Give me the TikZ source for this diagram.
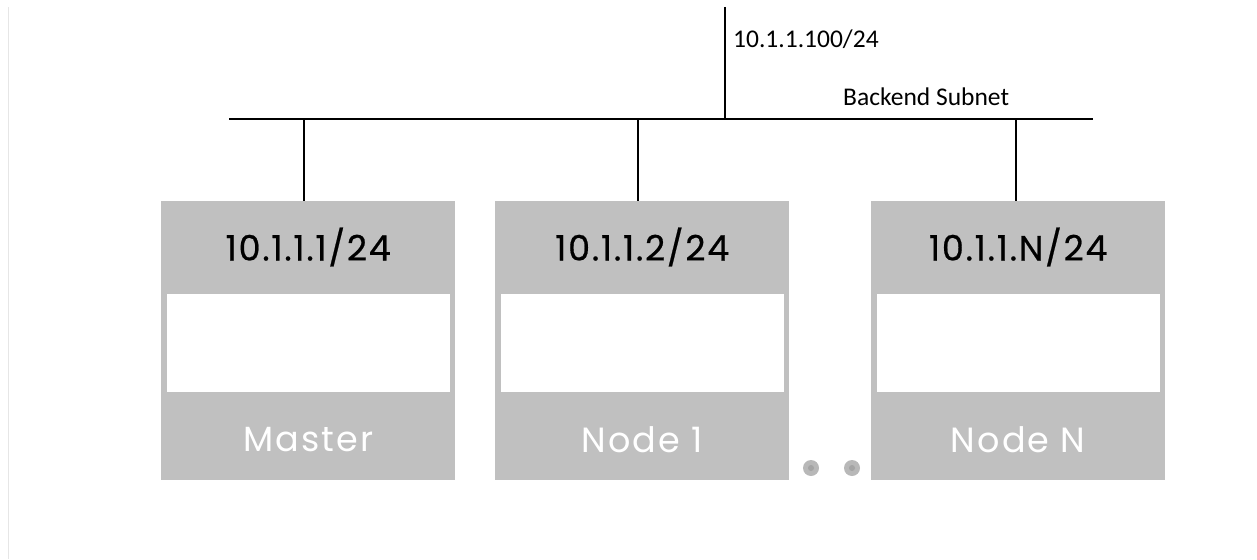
\documentclass[tikz,border=0pt]{standalone}
\usepackage{fontspec}
\newfontfamily\lblfont{Carlito}
\newfontfamily\boxfont[LetterSpace=6]{Poppins}
\newfontfamily\boxfontb[LetterSpace=5,FakeBold=0.6]{Poppins}
\definecolor{boxgray}{HTML}{C0C0C0}
\definecolor{dotgray}{HTML}{B8B8B8}
\definecolor{dotcore}{HTML}{A4A4A4}
\definecolor{edgegray}{HTML}{E6E6E6}
\begin{document}
\begin{tikzpicture}[x=1pt,y=-1pt,
  wire/.style={line width=2pt,black},
  lbl/.style={inner sep=0pt,anchor=base west,font=\lblfont\fontsize{25.5}{28}\selectfont},
  iptext/.style={inner sep=0pt,font=\boxfontb\fontsize{35}{38}\selectfont,text=black},
  nametext/.style={inner sep=0pt,font=\boxfont\fontsize{35}{38}\selectfont,text=white},
  hostbox/.style={fill=boxgray,draw=none,minimum width=294pt,minimum height=279pt,inner sep=0pt,anchor=north west},
  hole/.style={fill=white,draw=none,minimum width=283pt,minimum height=98pt,inner sep=0pt,anchor=north}]
\useasboundingbox (0,0) rectangle (1257,559);
\draw[edgegray,line width=1.2pt] (8.5,7) -- (8.5,559);

% host boxes
\node[hostbox] (m) at (161,201) {};
\node[hostbox] (n1) at (495,201) {};
\node[hostbox] (nn) at (871,201) {};
\foreach \b in {m,n1,nn}{
  \node[hole] (\b h) at ([yshift=-93pt]\b.north) {};
}
\node[iptext] (mip) at ([yshift=-46pt]m.north) {10.1.1.1/24};
\node[iptext] (n1ip) at ([yshift=-46pt]n1.north) {10.1.1.2/24};
\node[iptext] (nnip) at ([yshift=-46pt]nn.north) {10.1.1.N/24};
\node[nametext] (mname) at ([yshift=-239pt]m.north) {Master};
\node[nametext] (n1name) at ([yshift=-239pt]n1.north) {Node 1};
\node[nametext] (nnname) at ([yshift=-239pt]nn.north) {Node N};

% bus
\coordinate (busL) at (229,119);
\coordinate (busR) at (1093,119);
\coordinate (up) at (725,7);
\coordinate (upfoot) at (725,119);
\coordinate (mtap) at (304,119);
\coordinate (n1tap) at (638,119);
\coordinate (nntap) at (1016,119);
\draw[wire] (busL) -- (busR);
\draw[wire] (up) -- (upfoot);
\draw[wire] (mtap) -- (mtap |- m.north);
\draw[wire] (n1tap) -- (n1tap |- n1.north);
\draw[wire] (nntap) -- (nntap |- nn.north);

\node[lbl] (uplbl) at (733,48) {10.1.1.100/24};
\node[lbl] (buslbl) at (843,106) {Backend Subnet};

% dots
\foreach \x/\n in {811/d1,852/d2}{
  \node[circle,fill=dotgray,minimum size=16pt,inner sep=0pt] (\n) at (\x,468) {};
  \fill[dotcore] (\n) circle (3pt);
}
\end{tikzpicture}
\end{document}
